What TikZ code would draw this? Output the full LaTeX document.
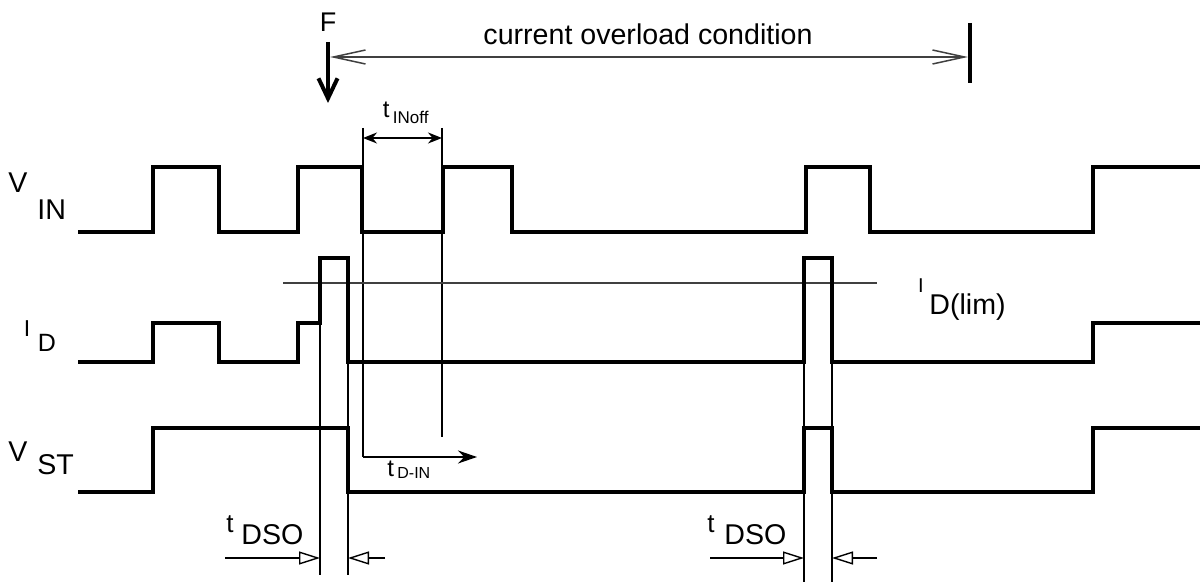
\documentclass[tikz,border=0pt]{standalone}
\usepackage{fontspec}
\setmainfont{Liberation Sans}
\usetikzlibrary{arrows.meta}
\tikzset{
  sig/.style={line width=2pt, line join=miter, line cap=rect},
  thin/.style={line width=0.8pt},
  grayline/.style={line width=0.8pt, draw=black!75},
  lbl/.style={inner sep=0pt, font=\fontsize{14.3}{16}\selectfont},
  lblb/.style={lbl, anchor=base},
  lblw/.style={lbl, anchor=base west},
  barbs/.style={{Straight Barb[length=16pt,width=7pt,line width=0.75pt]}-{Straight Barb[length=16pt,width=7pt,line width=0.75pt]}},
  dso/.style={-{Triangle[open,length=10.5pt,width=6.5pt,line width=0.7pt]}},
}
\begin{document}
\begin{tikzpicture}[x=0.5pt,y=-0.5pt]
\useasboundingbox (0,0) rectangle (1200,582);

% thin vertical marker lines
\draw[thin] (320,323) -- (320,575);
\draw[thin] (348,258) -- (348,575);
\draw[thin] (804,258) -- (804,582);
\draw[thin] (832,258) -- (832,582);
\coordinate (dinTop) at (363,128);
\coordinate (dinBot) at (363,457);
\coordinate (dinEnd) at (477,457);
\draw[thin] (dinTop) -- (dinBot);
\draw[thin] (442,128) -- (442,437);

% I_D(lim) line
\draw[grayline] (283,283) -- (877,283);

% waveforms
\draw[sig] (80,232) -- (153,232) -- (153,167) -- (219,167) -- (219,232) -- (298,232) -- (298,167) -- (362,167) -- (362,232) -- (443,232) -- (443,167) -- (512,167) -- (512,232) -- (806,232) -- (806,167) -- (870,167) -- (870,232) -- (1093,232) -- (1093,167) -- (1200,167);
\draw[sig] (80,362) -- (153,362) -- (153,323) -- (219,323) -- (219,362) -- (298,362) -- (298,323) -- (320,323) -- (320,258) -- (348,258) -- (348,362) -- (804,362) -- (804,258) -- (832,258) -- (832,362) -- (1093,362) -- (1093,323) -- (1200,323);
\draw[sig] (80,492) -- (153,492) -- (153,428) -- (348,428) -- (348,492) -- (804,492) -- (804,428) -- (832,428) -- (832,492) -- (1093,492) -- (1093,428) -- (1200,428);

% F arrow
\node[lblb, font=\fontsize{13.5}{15}\selectfont] (F) at (328,32) {F};
\coordinate (fTop) at (328,42);
\coordinate (fTip) at (328,103);
\draw[line width=2pt, -{Straight Barb[length=10pt,width=9.5pt,line width=2pt]}] (fTop) -- (fTip);

% current overload condition
\coordinate (ovL) at (330,57);
\coordinate (ovR) at (968,57);
\draw[grayline, barbs] (ovL) -- (ovR);
\draw[line width=2pt] (970,23) -- (970,83);
\node[lblb] (ov) at (648,45) {current overload condition};

% t_INoff
\coordinate (inoffL) at (363,138);
\coordinate (inoffR) at (442,138);
\draw[thin, {Stealth[length=7pt,width=5.5pt]}-{Stealth[length=7pt,width=5.5pt]}] (inoffL) -- (inoffR);
\node[lblw, font=\fontsize{12}{13}\selectfont] (tin) at (382.5,118) {t};
\node[lblw, font=\fontsize{8.5}{9}\selectfont] (tinsub) at (392.5,123.5) {INoff};

% t_D-IN
\draw[thin, -{Stealth[length=9.5pt,width=6.5pt]}] (dinBot) -- (dinEnd);
\node[lblw, font=\fontsize{12}{13}\selectfont] (tdin) at (387,477) {t};
\node[lblw, font=\fontsize{8}{9}\selectfont] (tdinsub) at (397,478.5) {D-IN};

% signal labels
\node[lblb] (v1) at (18,193) {V};
\node[lblw] (v1s) at (37,220) {IN};
\node[lblb, font=\fontsize{11.5}{12}\selectfont] (i1) at (27,337) {I};
\node[lblw, font=\fontsize{12.5}{14}\selectfont] (i1s) at (37.5,352) {D};
\node[lblb] (v2) at (18,462) {V};
\node[lblw] (v2s) at (37,475) {ST};
\node[lblb, font=\fontsize{10}{11}\selectfont] (il) at (921,293) {I};
\node[lblw] (ils) at (929,315) {D(lim)};

% t_DSO left
\coordinate (dsoA) at (225,558);
\coordinate (dsoB) at (320,558);
\coordinate (dsoC) at (385,558);
\coordinate (dsoD) at (348,558);
\draw[thin, dso] (dsoA) -- (dsoB);
\draw[thin, dso] (dsoC) -- (dsoD);
\node[lblb, font=\fontsize{13}{14}\selectfont] (t1) at (230,533) {t};
\node[lblw] (t1s) at (241,545) {DSO};

% t_DSO right
\coordinate (dsoE) at (710,558);
\coordinate (dsoF) at (804,558);
\coordinate (dsoG) at (877,558);
\coordinate (dsoH) at (832,558);
\draw[thin, dso] (dsoE) -- (dsoF);
\draw[thin, dso] (dsoG) -- (dsoH);
\node[lblb, font=\fontsize{13}{14}\selectfont] (t2) at (711,533) {t};
\node[lblw] (t2s) at (724,545) {DSO};
\end{tikzpicture}
\end{document}
